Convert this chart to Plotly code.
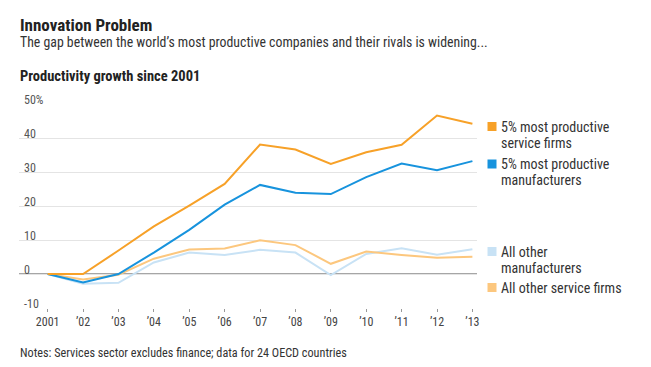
import plotly.graph_objects as go

years = list(range(2001, 2014))
tick_labels = ["2001", "\u201902", "\u201903", "\u201904", "\u201905", "\u201906", "\u201907",
               "\u201908", "\u201909", "\u201910", "\u201911", "\u201912", "\u201913"]

top_services = [0, 0, 6.9, 14.0, 20.1, 26.5, 38.1, 36.6, 32.4, 35.8, 38.0, 46.6, 44.2]
top_manufacturers = [0, -2.5, 0, 6.3, 13.0, 20.4, 26.2, 23.9, 23.5, 28.5, 32.5, 30.5, 33.2]
other_manufacturers = [0, -2.9, -2.6, 3.4, 6.3, 5.6, 7.1, 6.3, -0.3, 5.9, 7.6, 5.7, 7.3]
other_services = [0, -1.6, -0.2, 4.5, 7.2, 7.5, 9.9, 8.5, 3.0, 6.6, 5.6, 4.8, 5.1]

y_ticks = [-10, 0, 10, 20, 30, 40, 50]
y_tick_labels = ["-10", "0", "10", "20", "30", "40", "50%"]

series = [
    ("All other manufacturers", other_manufacturers, "#c8e2f5"),
    ("All other service firms", other_services, "#fcc77e"),
    ("5% most productive manufacturers", top_manufacturers, "#1793dd"),
    ("5% most productive service firms", top_services, "#f7a128"),
]

legend_items = [
    (["5% most productive", "service firms"], "#f7a128", 126.5),
    (["5% most productive", "manufacturers"], "#1793dd", 164),
    (["All other", "manufacturers"], "#c8e2f5", 251.5),
    (["All other service firms"], "#fcc77e", 287.5),
]

FONT = "Liberation Sans Narrow, Roboto Condensed, Arial Narrow, sans-serif"
W, H = 651, 367
L, R, T, B = 19, 174, 104, 59
PW = W - L - R
PH = H - T - B

fig = go.Figure()
for name, vals, color in series:
    fig.add_trace(go.Scatter(x=years, y=vals, mode="lines", name=name,
                             line=dict(color=color, width=2), showlegend=False,
                             hoverinfo="skip"))

fig.add_shape(type="line", xref="paper", yref="y", x0=0, x1=1, y0=0, y1=0,
              line=dict(color="#888888", width=1.5), layer="below")

annotations = []
for v, lab in zip(y_ticks, y_tick_labels):
    annotations.append(dict(xref="paper", yref="y", x=0, y=v, text=lab, showarrow=False,
                            xanchor="left", yanchor="middle", xshift=3, yshift=4.5,
                            font=dict(family=FONT, size=12, color="#555555")))


def px_x(xpix):
    return (xpix - L) / PW


def px_y(ypix):
    return 1 - (ypix - T) / PH


def ptext(text, xpix, ypix, size, color="#222222", bold=False):
    t = f"<b>{text}</b>" if bold else text
    annotations.append(dict(xref="paper", yref="paper", x=px_x(xpix), y=px_y(ypix),
                            text=t, showarrow=False, xanchor="left", yanchor="middle",
                            font=dict(family=FONT, size=size, color=color)))


# legend
for lines, color, ypix in legend_items:
    fig.add_shape(type="rect", xref="paper", yref="paper",
                  x0=px_x(487.5), x1=px_x(496.5),
                  y0=px_y(ypix + 4.5), y1=px_y(ypix - 4.5),
                  fillcolor=color, line=dict(width=0))
    for i, line in enumerate(lines):
        ptext(line, 498.5, ypix + i * 16, 14, "#333333")

# titles
ptext("Innovation Problem", 18, 25, 17, "#222222", bold=True)
ptext("The gap between the world\u2019s most productive companies and their rivals is widening...", 18, 42, 13.8, "#333333")
ptext("Productivity growth since 2001", 18, 76, 14.5, "#222222", bold=True)
ptext("Notes: Services sector excludes finance; data for 24 OECD countries", 18, 353, 12.2, "#333333")

fig.update_layout(
    width=W, height=H, margin=dict(l=L, r=R, t=T, b=B),
    plot_bgcolor="white", paper_bgcolor="white",
    annotations=annotations,
    xaxis=dict(range=[2000.19, 2013.13], tickvals=years, ticktext=tick_labels,
               showgrid=False, zeroline=False, ticks="outside", ticklen=3,
               tickcolor="#999999", tickwidth=1,
               tickfont=dict(family=FONT, size=12, color="#444444"), showline=False),
    yaxis=dict(range=[-10, 50], tickvals=y_ticks, showticklabels=False,
               showgrid=True, gridcolor="#e4e4e4", gridwidth=1, zeroline=False),
)

fig.write_html("out.html", config={"displayModeBar": False},
               post_script="document.body.style.margin='0';document.body.style.overflow='hidden';")
